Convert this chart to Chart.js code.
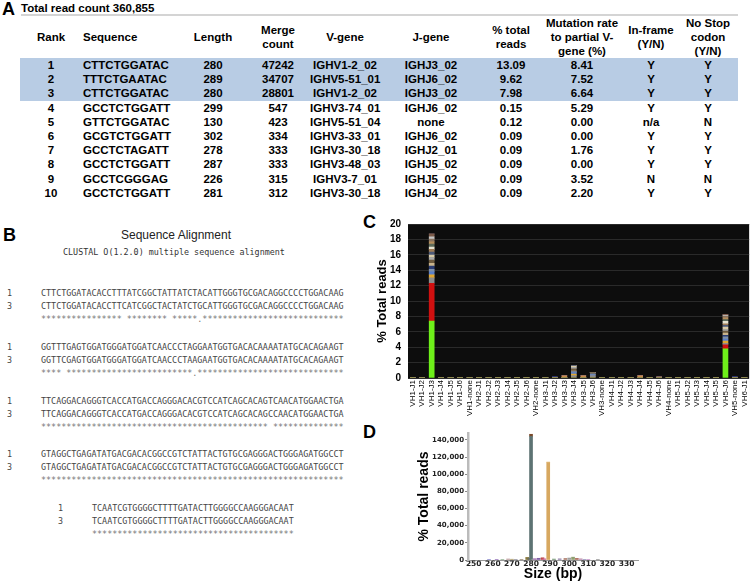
<!DOCTYPE html>
<html>
<head>
<meta charset="utf-8">
<script src="https://cdn.jsdelivr.net/npm/chart.js@4.4.1/dist/chart.umd.min.js"></script>
<style>
  html, body { margin: 0; padding: 0; background: #fff; }
  body { width: 756px; height: 583px; position: relative; overflow: hidden; font-family: "Liberation Sans", Arial, sans-serif; }
  .abs { position: absolute; white-space: nowrap; }
  .panel { font-weight: bold; font-size: 18px; line-height: 18px; color: #000; }
  #tbl { position: absolute; left: 20px; top: 16px; width: 718px; border-collapse: collapse; table-layout: fixed;
         font-size: 11.5px; font-weight: bold; color: #000; }
  #tbl th { height: 41px; line-height: 14px; padding: 0; vertical-align: middle; text-align: center; font-weight: bold; }
  #tbl td { height: 14.2px; line-height: 14.2px; padding: 0; text-align: center; white-space: nowrap; }
  #tbl td.seq, #tbl th.seq { text-align: left; padding-left: 1px; }
  #tbl tr.hl td { background: #b8cce4; }
  .mono { font-family: "DejaVu Sans Mono", monospace; font-size: 8.4px; line-height: 10px; color: #444; }
  .stars { color: #777; }
</style>
</head>
<body>
<div class="abs panel" style="left:2px;top:0px;">A</div>
<div class="abs" style="left:21px;top:1.5px;font-size:11.5px;font-weight:bold;line-height:13px;">Total read count 360,855</div>
<div class="abs" style="left:21px;top:14px;width:717px;height:2px;background:#d4d4d4;"></div>
<table id="tbl">
  <colgroup>
    <col style="width:62px"><col style="width:98px"><col style="width:66px"><col style="width:64px"><col style="width:70px">
    <col style="width:102px"><col style="width:58px"><col style="width:84px"><col style="width:54px"><col style="width:60px">
  </colgroup>
  <thead><tr>
    <th>Rank</th><th class="seq">Sequence</th><th>Length</th><th>Merge<br>count</th><th>V-gene</th>
    <th>J-gene</th><th>% total<br>reads</th><th>Mutation rate<br>to partial V-<br>gene (%)</th><th>In-frame<br>(Y/N)</th><th>No Stop<br>codon<br>(Y/N)</th>
  </tr></thead>
  <tbody id="tbody"></tbody>
</table>

<div class="abs panel" style="left:3px;top:226px;">B</div>
<div class="abs" style="left:76px;top:229px;width:200px;text-align:center;font-size:12px;line-height:12px;color:#222;">Sequence Alignment</div>
<div class="abs mono" style="left:63px;top:247px;color:#333;">CLUSTAL O(1.2.0) multiple sequence alignment</div>
<div id="align"></div>

<div class="abs panel" style="left:363px;top:213px;">C</div>
<canvas id="vhjChart" width="388" height="208" style="position:absolute;left:368px;top:211px;"></canvas>

<div class="abs panel" style="left:363px;top:423px;">D</div>
<canvas id="sizeChart" width="240" height="158" style="position:absolute;left:410px;top:425px;"></canvas>

<script>
// ---- panel A table ----
const ranks = ["1", "2", "3", "4", "5", "6", "7", "8", "9", "10"];
const sequences = ["CTTCTGGATAC", "TTTCTGAATAC", "CTTCTGGATAC", "GCCTCTGGATT", "GTTCTGGATAC",
                   "GCGTCTGGATT", "GCCTCTAGATT", "GCCTCTGGATT", "GCCTCGGGAG", "GCCTCTGGATT"];
const lengths = [280, 289, 280, 299, 130, 302, 278, 287, 226, 281];
const mergeCounts = [47242, 34707, 28801, 547, 423, 334, 333, 333, 315, 312];
const vGenes = ["IGHV1-2_02", "IGHV5-51_01", "IGHV1-2_02", "IGHV3-74_01", "IGHV5-51_04",
                "IGHV3-33_01", "IGHV3-30_18", "IGHV3-48_03", "IGHV3-7_01", "IGHV3-30_18"];
const jGenes = ["IGHJ3_02", "IGHJ6_02", "IGHJ3_02", "IGHJ6_02", "none",
                "IGHJ6_02", "IGHJ2_01", "IGHJ5_02", "IGHJ5_02", "IGHJ4_02"];
const pctTotalReads = ["13.09", "9.62", "7.98", "0.15", "0.12", "0.09", "0.09", "0.09", "0.09", "0.09"];
const mutationRate = ["8.41", "7.52", "6.64", "5.29", "0.00", "0.00", "1.76", "0.00", "3.52", "2.20"];
const inFrame = ["Y", "Y", "Y", "Y", "n/a", "Y", "Y", "Y", "N", "Y"];
const noStop = ["Y", "Y", "Y", "Y", "N", "Y", "Y", "Y", "N", "Y"];

const tbody = document.getElementById("tbody");
ranks.forEach((r, i) => {
  const tr = document.createElement("tr");
  if (i < 3) tr.className = "hl";
  const cells = [r, sequences[i], lengths[i], mergeCounts[i], vGenes[i], jGenes[i],
                 pctTotalReads[i], mutationRate[i], inFrame[i], noStop[i]];
  cells.forEach((c, j) => {
    const td = document.createElement("td");
    if (j === 1) td.className = "seq";
    td.textContent = c;
    tr.appendChild(td);
  });
  tbody.appendChild(tr);
});

// ---- panel B alignment ----
const alignSeq1 = [
  "CTTCTGGATACACCTTTATCGGCTATTATCTACATTGGGTGCGACAGGCCCCTGGACAAG",
  "GGTTTGAGTGGATGGGATGGATCAACCCTAGGAATGGTGACACAAAATATGCACAGAAGT",
  "TTCAGGACAGGGTCACCATGACCAGGGACACGTCCATCAGCACAGTCAACATGGAACTGA",
  "GTAGGCTGAGATATGACGACACGGCCGTCTATTACTGTGCGAGGGACTGGGAGATGGCCT",
  "TCAATCGTGGGGCTTTTGATACTTGGGGCCAAGGGACAAT"
];
const alignSeq3 = [
  "CTTCTGGATACACCTTCATCGGCTACTATCTGCATTGGGTGCGACAGGCCCCTGGACAAG",
  "GGTTCGAGTGGATGGGATGGATCAACCCTAAGAATGGTGACACAAAATATGCACAGAAGT",
  "TTCAGGACAGGGTCACCATGACCAGGGACACGTCCATCAGCACAGCCAACATGGAACTGA",
  "GTAGGCTGAGATATGACGACACGGCCGTCTATTACTGTGCGAGGGACTGGGAGATGGCCT",
  "TCAATCGTGGGGCTTTTGATACTTGGGGCCAAGGGACAAT"
];
const alignStars = [
  "*".repeat(16) + " " + "*".repeat(8) + " " + "*".repeat(5) + "." + "*".repeat(28),
  "*".repeat(4) + " " + "*".repeat(25) + "." + "*".repeat(29),
  "*".repeat(45) + " " + "*".repeat(14),
  "*".repeat(60),
  "*".repeat(40)
];

const alignDiv = document.getElementById("align");
alignSeq1.forEach((s, k) => {
  const top = 288 + 53.8 * k;
  const numX = k === 4 ? 58 : 7;
  const seqX = k === 4 ? 92 : 41;
  const rows = [["1", s], ["3", alignSeq3[k]], ["", alignStars[k]]];
  rows.forEach(([n, txt], r) => {
    const y = top + r * 13;
    if (n) {
      const d = document.createElement("div");
      d.className = "abs mono";
      d.style.left = numX + "px"; d.style.top = y + "px";
      d.textContent = n;
      alignDiv.appendChild(d);
    }
    const e = document.createElement("div");
    e.className = "abs mono" + (n ? "" : " stars");
    e.style.left = seqX + "px"; e.style.top = y + "px";
    e.textContent = txt;
    alignDiv.appendChild(e);
  });
});

Chart.defaults.font.family = "'Liberation Sans', Arial, sans-serif";

// ---- panel C: % total reads per VH-JH pair ----
const vhjLabels = [
  "VH1-J1", "VH1-J2", "VH1-J3", "VH1-J4", "VH1-J5", "VH1-J6", "VH1-none",
  "VH2-J1", "VH2-J2", "VH2-J3", "VH2-J4", "VH2-J5", "VH2-J6", "VH2-none",
  "VH3-J1", "VH3-J2", "VH3-J3", "VH3-J4", "VH3-J5", "VH3-J6", "VH3-none",
  "VH4-J1", "VH4-J2", "VH4-J3", "VH4-J4", "VH4-J5", "VH4-J6", "VH4-none",
  "VH5-J1", "VH5-J2", "VH5-J3", "VH5-J4", "VH5-J5", "VH5-J6", "VH5-none",
  "VH6-J1"
];
// clone shares stacked inside the larger bars (bottom to top)
const stackVH1J3 = [7.4, 4.9, 0.7, 0.4, 0.4, 0.3, 0.45, 0.35, 0.4, 0.35, 0.3, 0.4, 0.35, 0.3, 0.4, 0.3, 0.35, 0.3, 0.35];
const stackVH5J6 = [3.8, 0.5, 0.2, 0.3, 0.25, 0.3, 0.2, 0.3, 0.25, 0.2, 0.3, 0.25, 0.2, 0.3, 0.25, 0.2, 0.25, 0.1, 0.1];
const stackVH3J4 = [0, 0, 0.3, 0.2, 0.2, 0.1, 0, 0.1, 0.3, 0.2, 0.1, 0.1];
const stackVH3J6 = [0, 0, 0.25, 0, 0.15, 0.1, 0, 0, 0.2];
const orangeBarLabels = ["VH1-J4", "VH1-J6", "VH3-J3", "VH3-J5", "VH4-J4", "VH4-J6"];
const orangeBarPct = [0.1, 0.1, 0.3, 0.3, 0.3, 0.15];
const blueBarLabels = ["VH1-J5", "VH3-J2", "VH4-J1", "VH4-J3", "VH5-none"];
const blueBarPct = [0.05, 0.15, 0.08, 0.1, 0.15];

const stackColors = ["#6ef01a", "#d01010", "#8c8c8c", "#e2a72e", "#5a7fc8", "#7d8fa8", "#2b3d73", "#c9b48c",
                     "#6d5a3e", "#a9a9a9", "#d9cba6", "#4d5a78", "#9e7b55", "#e6e2d0", "#5d6b5a", "#b58e5c",
                     "#8a7460", "#c4c4c4", "#7b5a48"];

const stackByLabel = { "VH1-J3": stackVH1J3, "VH5-J6": stackVH5J6, "VH3-J4": stackVH3J4, "VH3-J6": stackVH3J6 };
const vhjDatasets = stackColors.map((col, s) => ({
  data: vhjLabels.map(l => (stackByLabel[l] && stackByLabel[l][s]) || 0),
  backgroundColor: col
}));
vhjDatasets.push({
  data: vhjLabels.map(l => { const i = orangeBarLabels.indexOf(l); return i < 0 ? 0 : orangeBarPct[i]; }),
  backgroundColor: "#c98a4a"
});
vhjDatasets.push({
  data: vhjLabels.map(l => { const i = blueBarLabels.indexOf(l); return i < 0 ? 0 : blueBarPct[i]; }),
  backgroundColor: "#4d5bd0"
});
vhjDatasets.forEach(d => { d.barThickness = 5; d.borderWidth = 0; });

const blackPlot = {
  id: "blackPlot",
  beforeDraw(chart) {
    const { ctx, chartArea: a } = chart;
    ctx.save();
    ctx.fillStyle = "#0d0d0d";
    ctx.fillRect(a.left, a.top, a.right - a.left, a.bottom - a.top);
    ctx.restore();
  }
};

new Chart(document.getElementById("vhjChart"), {
  type: "bar",
  data: { labels: vhjLabels, datasets: vhjDatasets },
  options: {
    responsive: false,
    animation: false,
    devicePixelRatio: 1,
    layout: { padding: { top: 0, right: 0 } },
    plugins: { legend: { display: false }, tooltip: { enabled: false } },
    scales: {
      x: {
        stacked: true,
        grid: { display: false, drawTicks: false },
        border: { display: false },
        ticks: { autoSkip: false, maxRotation: 90, minRotation: 90, padding: 2, color: "#000",
                 font: { size: 8 } },
        afterFit: s => { s.height = 41; }
      },
      y: {
        stacked: true,
        min: 0,
        max: 20,
        ticks: { stepSize: 2, padding: 7, color: "#000", font: { size: 10, weight: "bold" } },
        grid: { color: "#2a2a2a", drawTicks: false },
        border: { display: false },
        title: { display: true, text: "% Total reads", color: "#000",
                 font: { size: 13, weight: "bold" }, padding: { top: 7, bottom: 0 } },
        afterFit: s => { s.width = 40; }
      }
    }
  },
  plugins: [blackPlot]
});

// ---- panel D: reads by amplicon size ----
const sizeBp = [258, 262, 265, 268, 270, 272, 275, 278, 279, 280, 282, 284, 286, 287, 289,
                292, 295, 298, 300, 302, 304, 306, 308, 310, 315];
const readsBySize = [400, 300, 700, 1200, 900, 700, 800, 3000, 2200, 144000, 1500, 2000, 2600, 1400, 113500,
                     1100, 1400, 1800, 2300, 3300, 1900, 1400, 800, 600, 300];
const capSizeBp = [280, 289];
const capReads = [2500, 700];
const sizeTicks = [250, 260, 270, 280, 290, 300, 310, 320, 330];
const countTicks = [0, 20000, 40000, 60000, 80000, 100000, 120000, 140000];

const sizeColors = ["#8f8fd0", "#a080c0", "#90b090", "#c0a0a0", "#b0a070", "#9090a0", "#a09080", "#8c7a3c",
                    "#707060", "#5d7373", "#a070b0", "#8060a8", "#c04848", "#d070a0", "#d7a860", "#7a9a7a",
                    "#9a8ab0", "#b08070", "#a0a0a0", "#90a070", "#b07060", "#c090b0", "#9a9ac0", "#c080c0",
                    "#a0a0a0"];

new Chart(document.getElementById("sizeChart"), {
  type: "bar",
  data: {
    datasets: [
      { data: sizeBp.map((x, i) => ({ x, y: readsBySize[i] })), backgroundColor: sizeColors,
        barThickness: 3, borderWidth: 0 },
      { data: capSizeBp.map((x, i) => ({ x, y: capReads[i] })), backgroundColor: ["#7a4a2a", "#e8c890"],
        barThickness: 3, borderWidth: 0 }
    ]
  },
  options: {
    responsive: false,
    animation: false,
    devicePixelRatio: 1,
    layout: { padding: { top: 8, right: 12 } },
    plugins: { legend: { display: false }, tooltip: { enabled: false } },
    scales: {
      x: {
        type: "linear",
        stacked: true,
        min: 247,
        max: 336,
        offset: false,
        afterBuildTicks: s => { s.ticks = sizeTicks.map(v => ({ value: v })); },
        ticks: { padding: 0, maxRotation: 0, minRotation: 0, autoSkip: false, color: "#222",
                 font: { family: "'DejaVu Sans'", size: 7.5, weight: "bold" } },
        grid: { display: false, drawTicks: false },
        border: { display: true, color: "#999", width: 1 },
        title: { display: true, text: "Size (bp)", color: "#000", font: { size: 14, weight: "bold" }, padding: 0 },
        afterFit: s => { s.height = 23; }
      },
      y: {
        stacked: true,
        min: 0,
        max: 148000,
        afterBuildTicks: s => { s.ticks = countTicks.map(v => ({ value: v })); },
        ticks: { padding: 1, color: "#222", font: { family: "'DejaVu Sans'", size: 7, weight: "bold" },
                 callback: v => v.toLocaleString("en-US") },
        grid: { drawOnChartArea: false, tickLength: 3, color: "#888" },
        border: { display: true, color: "#bbb", width: 2.5 },
        title: { display: true, text: "% Total reads", color: "#000",
                 font: { size: 14, weight: "bold" }, padding: { top: 6, bottom: 0 } },
        afterFit: s => { s.width = 58; }
      }
    }
  }
});
</script>
</body>
</html>
